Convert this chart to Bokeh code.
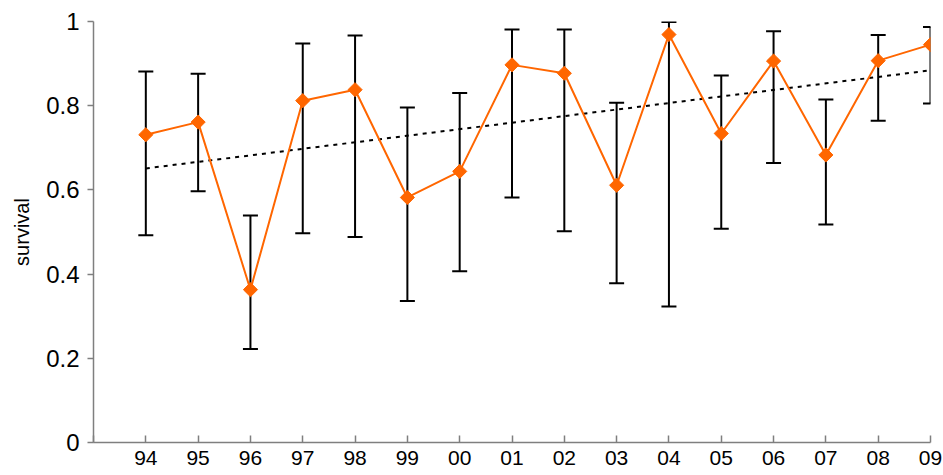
from bokeh.plotting import figure
from bokeh.models import (ColumnDataSource, Range1d, FixedTicker, Whisker, TeeHead)
from bokeh.embed import file_html
from bokeh.resources import INLINE

years = ["94", "95", "96", "97", "98", "99", "00", "01", "02", "03", "04", "05", "06", "07", "08", "09"]
survival = [0.731, 0.761, 0.363, 0.812, 0.838, 0.582, 0.644, 0.897, 0.877, 0.611, 0.969, 0.734, 0.906, 0.683, 0.907, 0.945]
upper_ci = [0.881, 0.876, 0.539, 0.948, 0.967, 0.796, 0.830, 0.981, 0.981, 0.807, 0.999, 0.872, 0.977, 0.815, 0.968, 0.987]
lower_ci = [0.492, 0.597, 0.222, 0.497, 0.488, 0.336, 0.407, 0.582, 0.502, 0.378, 0.323, 0.508, 0.664, 0.518, 0.764, 0.805]
trend_years = ["94", "09"]
trend_values = [0.651, 0.884]
y_ticks = [0, 0.2, 0.4, 0.6, 0.8, 1]

xpos = [i + 1 for i in range(len(years))]
src = ColumnDataSource(dict(x=xpos, y=survival, up=upper_ci, lo=lower_ci))
trend_x = [years.index(t) + 1 for t in trend_years]

FONT = "Liberation Sans"

p = figure(width=943, height=475, output_backend="svg", toolbar_location=None,
           x_range=Range1d(0, len(years)), y_range=Range1d(0, 1),
           min_border_left=93, min_border_right=13, min_border_top=21, min_border_bottom=33)
p.outline_line_color = None
p.xgrid.visible = False
p.ygrid.visible = False
p.background_fill_color = "white"
p.border_fill_color = "white"

w = Whisker(source=src, base="x", upper="up", lower="lo", dimension="height",
            line_color="black", line_width=2,
            upper_head=TeeHead(size=15, line_color="black", line_width=2),
            lower_head=TeeHead(size=15, line_color="black", line_width=2))
p.add_layout(w)

p.line(trend_x, trend_values, line_color="black", line_width=2, line_dash="4 5")
p.line("x", "y", source=src, line_color="#FF6600", line_width=2)
p.scatter("x", "y", source=src, marker="square", angle=0.785398, size=10,
          fill_color="#FF6600", line_color="#FF6600", line_width=1)

# x axis
xa = p.xaxis[0]
xa.ticker = FixedTicker(ticks=[0] + xpos)
xa.major_label_overrides = {0: "", **{x: y for x, y in zip(xpos, years)}}
xa.major_tick_in = 7
xa.major_tick_out = 0
xa.minor_tick_line_color = None
xa.axis_line_color = "#7f7f7f"
xa.axis_line_width = 1.5
xa.major_tick_line_color = "#7f7f7f"
xa.major_tick_line_width = 1.5
xa.major_label_text_font = FONT
xa.major_label_text_font_size = "21px"
xa.major_label_text_color = "black"
xa.major_label_standoff = 8

# y axis
ya = p.yaxis[0]
ya.ticker = FixedTicker(ticks=y_ticks)
ya.major_label_overrides = {0: "0", 1: "1"}
ya.major_tick_in = 0
ya.major_tick_out = 6
ya.minor_tick_line_color = None
ya.axis_line_color = "#7f7f7f"
ya.axis_line_width = 1.5
ya.major_tick_line_color = "#7f7f7f"
ya.major_tick_line_width = 1.5
ya.major_label_text_font = FONT
ya.major_label_text_font_size = "24px"
ya.major_label_text_color = "black"
ya.major_label_standoff = 8
ya.axis_label = "survival"
ya.axis_label_text_font = FONT
ya.axis_label_text_font_size = "20px"
ya.axis_label_text_font_style = "normal"
ya.axis_label_text_color = "black"
ya.axis_label_standoff = 10

open("out.html", "w").write(file_html(p, INLINE))
